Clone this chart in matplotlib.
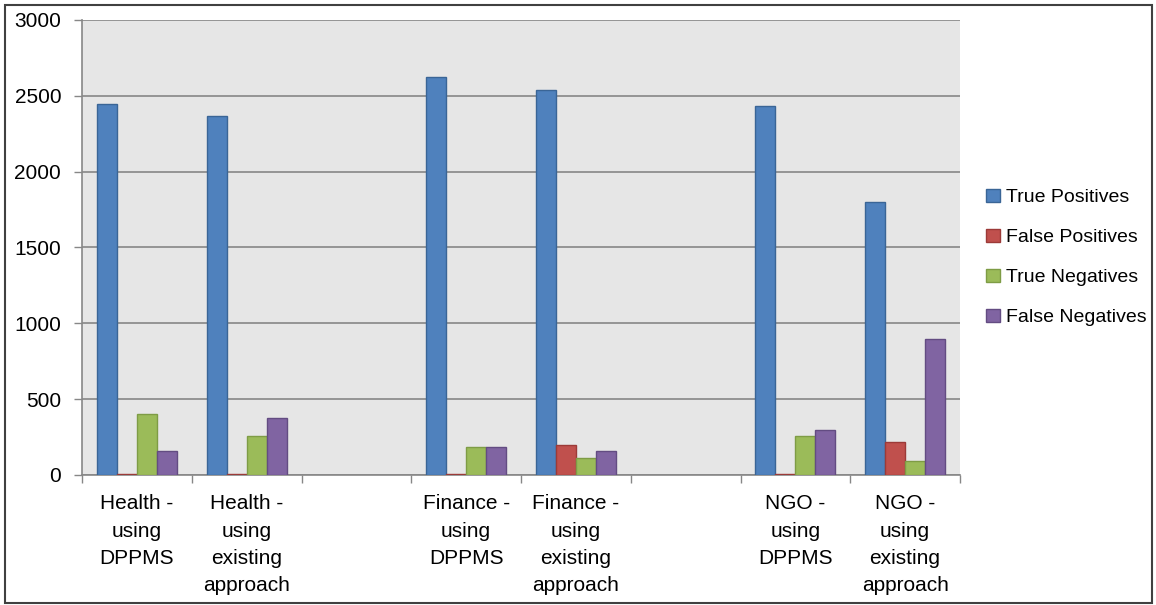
import numpy as np
import matplotlib.pyplot as plt
from matplotlib.patches import Rectangle

plt.rcParams['font.family'] = ['Liberation Sans', 'DejaVu Sans']

categories = ["Health -\nusing\nDPPMS", "Health -\nusing\nexisting\napproach", "",
              "Finance -\nusing\nDPPMS", "Finance -\nusing\nexisting\napproach", "",
              "NGO -\nusing\nDPPMS", "NGO -\nusing\nexisting\napproach"]
series = ["True Positives", "False Positives", "True Negatives", "False Negatives"]
true_pos = [2445, 2370, np.nan, 2625, 2540, np.nan, 2435, 1800]
false_pos = [5, 5, np.nan, 5, 200, np.nan, 5, 220]
true_neg = [405, 260, np.nan, 185, 115, np.nan, 260, 90]
false_neg = [155, 375, np.nan, 185, 155, np.nan, 295, 895]
yticks = [0, 500, 1000, 1500, 2000, 2500, 3000]

colors = ["#4F81BD", "#C0504D", "#9BBB59", "#8064A2"]
edges = ["#3A6596", "#9C3A38", "#7E9C45", "#634C82"]

fig = plt.figure(figsize=(11.56, 6.05), dpi=100)
ax = fig.add_axes([82/1156, 130/605, 878/1156, 455/605])
ax.set_facecolor("#E6E6E6")

x = np.arange(len(categories))
w = 1 / 5.5
values = [true_pos, false_pos, true_neg, false_neg]
for i, vals in enumerate(values):
    ax.bar(x - 2*w + w*i + w/2, vals, width=w, color=colors[i], edgecolor=edges[i],
           linewidth=1, label=series[i], zorder=3)

ax.set_xlim(-0.5, len(categories) - 0.5)
ax.set_ylim(0, 3000)
ax.set_yticks(yticks)
ax.grid(axis='y', color='#878787', linewidth=1.2, zorder=1)
ax.set_xticks(x)
ax.set_xticklabels(categories, fontsize=15, linespacing=1.55, va='top')
ax.set_xticks(np.arange(len(categories) + 1) - 0.5, minor=True)
ax.tick_params(axis='x', which='major', length=0, pad=14)
ax.tick_params(axis='x', which='minor', length=6, width=1, color='#878787', direction='out')
ax.tick_params(axis='y', length=6, width=1, color='#878787', labelsize=15, pad=9)
for s in ['top', 'right']:
    ax.spines[s].set_visible(False)
for s in ['left', 'bottom']:
    ax.spines[s].set_color('#878787')
    ax.spines[s].set_linewidth(1.2)

ax.legend(loc='center left', bbox_to_anchor=(1.01, 0.478), frameon=False, fontsize=14,
          handlelength=0.7, handleheight=0.7, handletextpad=0.3, labelspacing=1.15)

fig.patches.append(Rectangle((5/1156, 2/605), 1147/1156, 598/605, transform=fig.transFigure,
                             fill=False, edgecolor='#404040', linewidth=1.5))

fig.savefig("out.png", dpi=100)
